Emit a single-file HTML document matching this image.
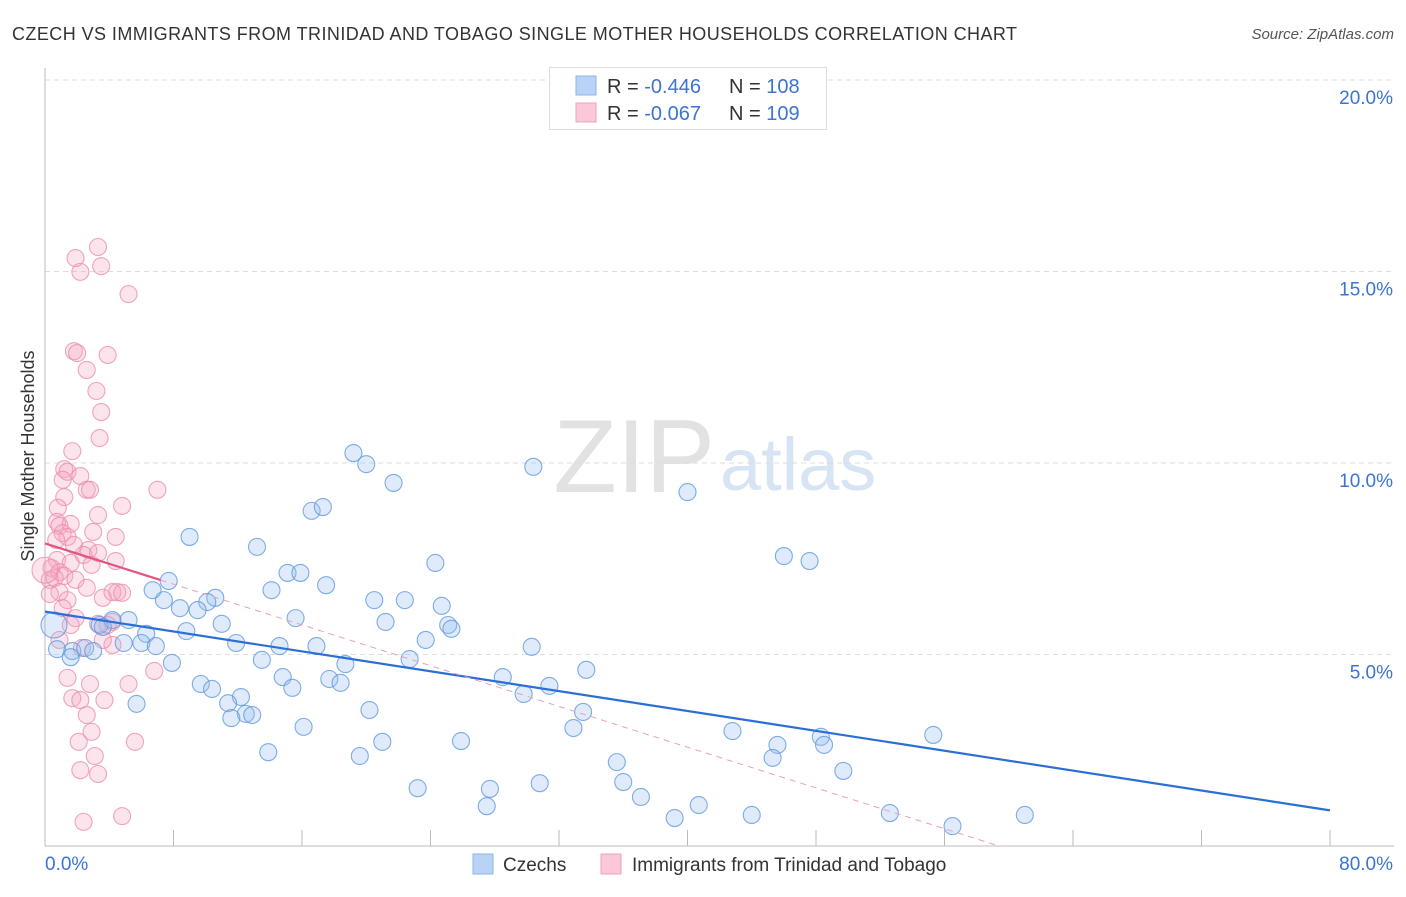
<!DOCTYPE html>
<html><head><meta charset="utf-8"><style>
body{margin:0;background:#fff;font-family:"Liberation Sans",sans-serif;}
svg text{font-family:"Liberation Sans",sans-serif;}
</style></head><body>
<svg width="1406" height="892" viewBox="0 0 1406 892" xmlns="http://www.w3.org/2000/svg" id="chart">
<text x="12" y="40" font-size="18" fill="#333" textLength="1005">CZECH VS IMMIGRANTS FROM TRINIDAD AND TOBAGO SINGLE MOTHER HOUSEHOLDS CORRELATION CHART</text>
<text x="1394" y="39" font-size="15" fill="#555" font-style="italic" text-anchor="end">Source: ZipAtlas.com</text>
<text x="715" y="492" font-size="104" fill="#e2e2e2" font-family="Liberation Serif" text-anchor="end">ZIP</text>
<text x="720" y="490" font-size="74" fill="#d6e4f4">atlas</text>
<g id="grid"></g>
<line x1="45" y1="68" x2="45" y2="846" stroke="#bbb"/>
<line x1="45" y1="846" x2="1394" y2="846" stroke="#bbb"/>
<g id="xticks"></g>
<text transform="translate(34,456) rotate(-90)" font-size="18" fill="#333" text-anchor="middle">Single Mother Households</text>
<g id="pts"></g>
<g id="trend"></g>
<g>
<rect x="549.5" y="67.5" width="277" height="62" fill="#fff" stroke="#ddd"/>
<rect x="576" y="76" width="20" height="19" fill="#b8d3f5" stroke="#8bb4e8"/>
<rect x="576" y="103" width="20" height="19" fill="#fac8d8" stroke="#f0a0bb"/>
<text x="607" y="93" font-size="20" fill="#333">R = <tspan fill="#3b74d1">-0.446</tspan><tspan x="729">N = </tspan><tspan fill="#3b74d1">108</tspan></text>
<text x="607" y="120" font-size="20" fill="#333">R = <tspan fill="#3b74d1">-0.067</tspan><tspan x="729">N = </tspan><tspan fill="#3b74d1">109</tspan></text>
</g>
<g>
<rect x="473" y="854" width="20" height="20" fill="#b8d3f5" stroke="#8bb4e8"/>
<text x="503" y="871" font-size="19" fill="#333">Czechs</text>
<rect x="601" y="854" width="20" height="20" fill="#fac8d8" stroke="#f0a0bb"/>
<text x="632" y="871" font-size="19" fill="#333">Immigrants from Trinidad and Tobago</text>
</g>
</svg>
<script>
const yTicks=[5,10,15,20];
const xTickLabels=["0.0%","80.0%"];
const blueX=[19.2,20.0,21.7,30.4,40.0,16.6,17.3,9.0,13.2,46.0,47.6,24.3,7.7,6.7,14.1,15.1,15.9,17.5,10.6,7.4,10.1,8.4,9.5,20.5,22.4,24.7,15.6,21.2,11.0,25.1,25.3,4.2,5.2,3.4,6.3,8.8,11.9,14.6,16.9,23.7,30.3,4.9,6.0,6.9,3.6,0.75,1.7,2.5,3.0,1.6,13.5,18.7,22.7,7.9,28.5,33.7,14.8,17.7,18.4,9.7,15.4,10.4,29.8,31.4,12.2,11.4,5.7,20.2,33.5,12.5,12.9,11.6,16.1,32.9,42.8,48.3,55.3,25.9,21.0,13.9,45.6,48.5,19.6,45.3,35.6,49.7,36.0,27.7,23.2,30.8,37.1,27.5,40.7,39.2,44.0,52.6,56.5,61.0,0.56];
const blueY=[10.26,9.97,9.48,9.90,9.24,8.75,8.85,8.07,7.81,7.57,7.44,7.39,6.92,6.68,6.68,7.13,7.13,6.81,6.48,6.42,6.37,6.21,6.16,6.42,6.42,6.27,5.95,5.85,5.80,5.77,5.67,5.90,5.90,5.77,5.54,5.61,5.30,5.22,5.22,5.38,5.20,5.30,5.30,5.22,5.72,5.14,5.09,5.17,5.09,4.93,4.86,4.75,4.88,4.78,4.41,4.60,4.41,4.36,4.26,4.23,4.13,4.10,3.97,4.18,3.89,3.73,3.71,3.55,3.50,3.45,3.42,3.34,3.11,3.08,3.00,2.85,2.90,2.74,2.72,2.45,2.64,2.64,2.35,2.30,2.19,1.96,1.67,1.49,1.51,1.64,1.28,1.04,1.07,0.73,0.81,0.86,0.52,0.81,5.77];
const pinkX=[3.3,1.9,3.5,2.2,5.2,1.8,2.0,3.9,2.6,3.2,3.5,3.4,1.7,1.2,1.4,2.2,1.1,2.6,2.8,7.0,1.2,4.8,0.8,3.3,0.75,0.9,1.6,1.1,1.4,3.0,4.4,0.7,1.8,2.7,2.4,3.3,4.4,0.75,1.6,2.9,0.4,0.9,1.2,0.3,0.6,1.9,2.6,4.5,0.9,0.3,3.6,4.2,4.8,1.4,1.1,1.9,4.2,3.3,3.9,1.6,0.9,4.2,3.6,2.3,6.8,1.4,2.8,5.2,1.7,2.2,3.7,2.6,2.9,2.1,5.6,3.1,2.2,3.3,4.8,2.4,0.0];
const pinkY=[15.64,15.35,15.14,14.99,14.41,12.92,12.87,12.82,12.43,11.88,11.33,10.65,10.31,9.84,9.77,9.66,9.56,9.30,9.30,9.30,9.11,8.88,8.83,8.64,8.46,8.36,8.41,8.17,8.07,8.20,8.07,7.99,7.86,7.73,7.60,7.65,7.44,7.47,7.39,7.34,7.26,7.15,7.05,6.95,7.00,6.95,6.74,6.63,6.63,6.58,6.48,6.63,6.61,6.42,6.21,5.95,5.85,5.80,5.77,5.77,5.38,5.25,5.38,5.17,4.57,4.39,4.23,4.23,3.86,3.81,3.81,3.42,2.98,2.72,2.72,2.35,1.98,1.88,0.78,0.63,7.2];
const blueTrend=[6.12,0.93];   // y at x=0, y at x=80
const pinkTrend=[7.9,-0.133];  // intercept, slope
const NS="http://www.w3.org/2000/svg";
const sx=v=>45+v*1285/80;
const sy=v=>846-v*38.3;
function mk(tag,attrs,parent){const e=document.createElementNS(NS,tag);for(const k in attrs)e.setAttribute(k,attrs[k]);parent.appendChild(e);return e;}
const grid=document.getElementById('grid');
yTicks.forEach(t=>{
  const l=mk('line',{x1:45,x2:1394,y1:sy(t),y2:sy(t),stroke:'#ddd','stroke-dasharray':'5,4'},grid);
  
  
  const tx=mk('text',{x:1393,y:sy(t)+24,'font-size':19,fill:'#3b74d1','text-anchor':'end'},grid);
  tx.textContent=t.toFixed(1)+'%';
  
  
});
const xt=document.getElementById('xticks');
for(let i=0;i<=10;i++){
  const l=mk('line',{x1:sx(i*8),x2:sx(i*8),y1:830,y2:846,stroke:'#bbb'},xt);
  
  
}
[[0,45,'start'],[80,1393,'end']].forEach((a,i)=>{
  const tx=mk('text',{x:a[1],y:870,'font-size':19,fill:'#3b74d1','text-anchor':a[2]},xt);
  tx.textContent=xTickLabels[i];
  
  
});
const pts=document.getElementById('pts');
function draw(xs,ys,fill,stroke,name){
  xs.forEach((x,i)=>{
    const big=i===xs.length-1;
    const c=mk('circle',{cx:sx(x),cy:sy(ys[i]),r:big?13:8.5,fill:fill,stroke:stroke,'stroke-width':1.1},pts);
    
    
  });
}
draw(pinkX,pinkY,'rgba(245,165,192,0.3)','rgba(236,143,174,0.8)','point-trinidad-tobago');
draw(blueX,blueY,'rgba(150,190,240,0.3)','rgba(95,152,224,0.8)','point-czechs');
const tr=document.getElementById('trend');
const bl=mk('line',{x1:sx(0),y1:sy(blueTrend[0]),x2:sx(80),y2:sy(blueTrend[1]),stroke:'#2b6fd6','stroke-width':2.2},tr);


const pEnd=-pinkTrend[0]/pinkTrend[1];
const pd=mk('line',{x1:sx(7.2),y1:sy(pinkTrend[0]+pinkTrend[1]*7.2),x2:sx(pEnd),y2:sy(0),stroke:'#e8a0b8','stroke-width':1,'stroke-dasharray':'6,5'},tr);


const ps=mk('line',{x1:sx(0),y1:sy(pinkTrend[0]),x2:sx(7.2),y2:sy(pinkTrend[0]+pinkTrend[1]*7.2),stroke:'#e0567f','stroke-width':2.2},tr);


</script>
</body></html>
